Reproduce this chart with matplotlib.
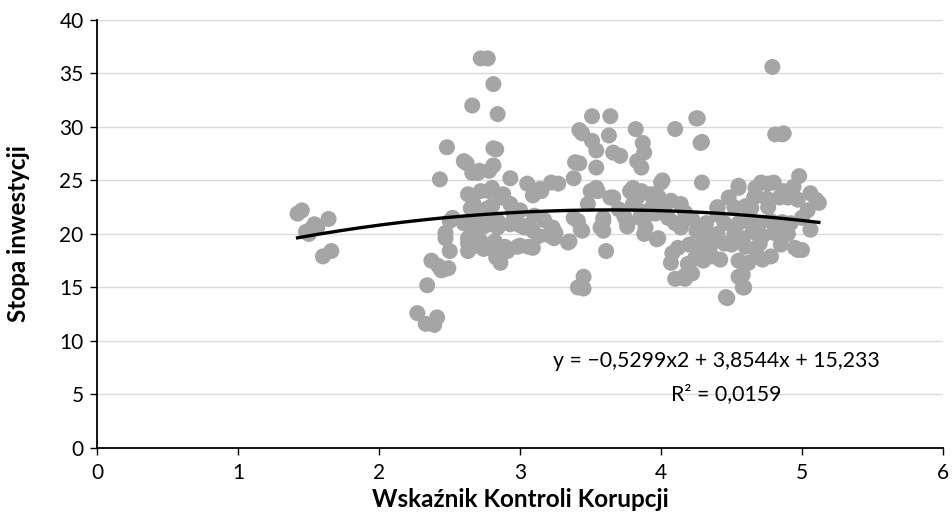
import numpy as np
import matplotlib
matplotlib.use('Agg')
import matplotlib.pyplot as plt

plt.rcParams['font.family'] = ['Lato', 'DejaVu Sans']

# Wskaźnik Kontroli Korupcji (x) vs Stopa inwestycji (y)
korupcja = [
    1.42, 1.45, 1.48, 1.50, 1.52, 1.54, 1.56, 1.64, 1.60, 1.66,
    2.27, 2.33, 2.39, 2.41, 2.34, 2.37, 2.42, 2.44, 2.49, 2.50, 2.47, 2.47, 2.50, 2.52, 2.43, 2.48, 2.46,
    2.60, 2.62, 2.63, 2.66, 2.66, 2.63, 2.63, 2.65, 2.60, 2.63, 2.63, 2.72, 2.77, 2.81, 2.84, 2.81,
    2.83, 2.70, 2.71, 2.78, 2.81, 2.72, 2.80, 2.78, 2.67, 2.77, 2.74, 2.84, 2.78, 2.84, 2.72, 2.82,
    2.74, 2.76, 2.83, 2.85, 2.86, 2.88, 2.87, 2.70, 2.68, 2.75, 2.80, 2.69,
    2.93, 3.05, 3.15, 3.14, 3.22, 3.27, 3.09, 2.93, 2.93, 3.00, 3.03, 3.06, 3.09, 2.91, 2.89, 2.98,
    3.00, 3.06, 3.09, 3.23, 3.25, 3.24, 3.34, 3.35, 3.38, 3.41, 3.43, 3.44, 3.38, 3.39, 3.42, 3.44,
    3.42, 3.45, 3.41, 3.45, 3.48, 3.50, 2.95, 3.00, 3.10, 3.17, 3.20, 3.13, 2.97,
    3.51, 3.64, 3.51, 3.54, 3.63, 3.66, 3.71, 3.82, 3.87, 3.88, 3.83, 3.54, 3.86, 3.54, 3.55, 3.64,
    3.66, 3.59, 3.59, 3.57, 3.59, 3.61, 3.78, 3.80, 3.83, 3.86, 3.92, 3.95, 3.76, 3.76, 3.85, 3.89,
    3.98, 3.97, 3.98, 3.80, 3.86, 3.92, 3.96, 3.70, 3.74, 3.94, 3.88,
    4.01, 4.00, 4.10, 4.25, 4.26, 4.28, 4.29, 4.29, 4.07, 4.14, 4.14, 4.08, 4.07, 4.19, 4.10, 4.17,
    4.17, 4.22, 4.17, 4.05, 4.10, 4.02, 4.25, 4.30, 4.35, 4.40, 4.40, 4.40, 4.40, 4.45, 4.48, 4.46,
    4.47, 4.24, 4.30, 4.36, 4.42, 4.20, 4.28, 4.35, 4.12, 4.22, 4.32, 4.45,
    4.55, 4.55, 4.59, 4.58, 4.52, 4.60, 4.67, 4.71, 4.76, 4.80, 4.79, 4.81, 4.86, 4.87, 4.87, 4.64,
    4.76, 4.55, 4.62, 4.70, 4.78, 4.86, 4.52, 4.58, 4.65, 4.72, 4.80, 4.50, 4.60, 4.70, 4.78, 4.55,
    4.62, 4.68, 4.72, 4.58, 4.55, 4.94, 4.97, 4.98, 5.06, 5.10, 5.12, 5.04, 5.06, 4.95, 5.00, 4.97,
    4.90, 4.84, 4.75, 4.66, 4.92, 5.00, 4.90, 4.85,
]
inwestycje = [
    21.9, 22.2, 20.2, 20.0, 20.5, 20.9, 20.6, 21.4, 17.9, 18.4,
    12.6, 11.6, 11.5, 12.2, 15.2, 17.5, 17.0, 16.6, 16.8, 18.4, 19.6, 20.1, 21.2, 21.5, 25.1, 28.1, 16.7,
    26.8, 26.6, 23.7, 25.7, 32.0, 18.4, 19.6, 22.4, 21.0, 20.9, 19.1, 36.4, 36.4, 34.0, 31.2, 28.0,
    27.9, 25.7, 25.9, 25.9, 26.4, 24.0, 24.3, 24.0, 22.8, 22.4, 20.7, 20.6, 20.9, 21.2, 19.3, 19.3,
    18.6, 18.7, 17.8, 18.1, 17.3, 23.7, 23.4, 21.5, 20.2, 22.0, 22.6, 18.9,
    25.2, 24.7, 24.0, 24.2, 24.8, 24.7, 23.6, 22.8, 20.9, 20.8, 20.6, 20.8, 20.3, 18.4, 18.8, 18.8,
    18.9, 18.8, 18.7, 20.6, 20.1, 19.6, 19.2, 19.3, 21.5, 21.2, 20.4, 20.3, 25.2, 26.7, 26.6, 29.4,
    29.7, 16.0, 15.0, 14.9, 22.8, 24.0, 22.0, 22.2, 21.7, 21.3, 19.9, 19.8, 21.3,
    31.0, 31.0, 28.7, 27.8, 29.2, 27.6, 27.3, 29.8, 28.5, 27.6, 26.8, 26.2, 26.2, 24.3, 24.0, 23.4,
    23.4, 21.2, 20.3, 20.6, 21.5, 18.4, 24.0, 24.3, 23.4, 24.0, 23.7, 23.7, 20.9, 20.7, 21.5, 20.6,
    19.6, 19.5, 23.5, 22.8, 22.1, 21.9, 21.9, 22.3, 21.6, 22.6, 20.0,
    25.0, 24.8, 29.8, 30.8, 30.8, 28.5, 28.6, 24.8, 23.1, 22.8, 20.6, 18.2, 17.3, 17.2, 15.8, 15.8,
    16.1, 16.3, 22.0, 21.5, 21.0, 22.3, 20.3, 19.6, 19.6, 20.0, 22.4, 22.5, 21.8, 21.0, 23.4, 14.1,
    14.0, 17.7, 17.5, 17.9, 17.6, 19.0, 18.5, 18.9, 18.7, 21.4, 21.0, 19.1,
    24.3, 24.5, 15.0, 15.0, 22.5, 22.6, 24.3, 24.8, 24.7, 24.8, 35.6, 29.3, 29.3, 29.4, 24.0, 22.4,
    22.5, 21.0, 21.2, 21.0, 21.2, 21.1, 20.0, 19.6, 20.2, 19.8, 20.1, 19.0, 18.8, 19.1, 17.9, 17.5,
    17.3, 18.0, 17.6, 16.2, 16.0, 24.4, 23.2, 25.4, 23.8, 23.2, 22.9, 22.2, 20.4, 18.7, 18.5, 18.5,
    23.4, 23.4, 23.3, 23.4, 21.0, 21.5, 20.0, 19.0,
]

# wielomianowa linia trendu (współczynniki z wykresu)
trend_coef = [-0.5299, 3.8544, 15.233]
trend_label = 'y = \u22120,5299x2 + 3,8544x + 15,233'
r2_label = 'R\u00b2 = 0,0159'

fig = plt.figure(figsize=(9.52, 5.32), dpi=100)
ax = fig.add_axes([0.1024, 0.158, 0.888, 0.8046])

ax.scatter(korupcja, inwestycje, s=133, color='#A5A5A5', edgecolors='none', zorder=3)

xs = np.linspace(min(korupcja), max(korupcja), 200)
ax.plot(xs, np.polyval(trend_coef, xs), color='black', linewidth=2.4, zorder=4)

ax.set_xlim(0, 6)
ax.set_ylim(0, 40)
ax.set_xticks(range(0, 7))
ax.set_yticks(range(0, 41, 5))
ax.yaxis.grid(True, color='#D9D9D9', linewidth=1)
ax.set_axisbelow(True)

for side in ['top', 'right']:
    ax.spines[side].set_visible(False)
for side in ['left', 'bottom']:
    ax.spines[side].set_linewidth(1.3)
    ax.spines[side].set_color('black')

ax.tick_params(axis='both', direction='out', length=5, width=1, labelsize=15, colors='black')
ax.tick_params(axis='x', pad=6)
ax.tick_params(axis='y', pad=5)

ax.set_xlabel('Wskaźnik Kontroli Korupcji', fontsize=17.5, fontweight='bold', va='center')
ax.set_ylabel('Stopa inwestycji', fontsize=17.5, fontweight='bold', va='center')
ax.xaxis.set_label_coords(0.5, -0.12)
ax.yaxis.set_label_coords(-0.094, 0.5)

ax.text(4.39, 8.1, trend_label, fontsize=15.3, ha='center', va='center')
ax.text(4.46, 5.0, r2_label, fontsize=15.3, ha='center', va='center')

plt.savefig('out.png', dpi=100)
